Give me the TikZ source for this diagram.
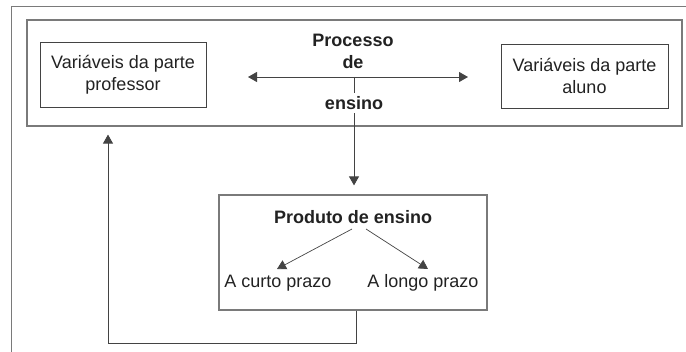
\documentclass[tikz,border=0pt]{standalone}
\usepackage{fontspec}
\setmainfont{Liberation Sans}
\usepackage{tikz}
\usetikzlibrary{arrows.meta}

\definecolor{ink}{HTML}{222222}
\definecolor{frame}{HTML}{7A7A7A}

\begin{document}
\begin{tikzpicture}[x=1pt,y=-1pt,
    txt/.style={text=ink,font=\fontsize{18}{22}\selectfont,align=center,inner sep=1pt},
    bold/.style={txt,font=\fontsize{18}{22}\selectfont\bfseries},
    box/.style={draw=ink!85,line width=0.9pt,txt},
    arr/.style={draw=ink!85,line width=0.9pt,-{Triangle[length=9pt,width=10pt]}}]
            \useasboundingbox (0,0) rectangle (686,352);
            \draw [frame,line width=1pt] (686,7) -- (11,7) -- (11,352); %%%%

            \node[draw=frame,line width=1.2pt,minimum width=655pt,minimum height=106pt] (proc) at (354.5,73) {};
            \node[box,minimum width=166pt,minimum height=65pt] (prof) at (123,74.5) {Variáveis da parte\\professor};
            \node[box,minimum width=167pt,minimum height=64pt] (alun) at (584.5,76) {Variáveis da parte\\aluno};
            \node[bold] (titulo) at (353,51) {Processo\\de};

            \coordinate (l) at (248,77);
            \coordinate (r) at (468,77);
            \coordinate (m) at (354,77);
            \draw[arr,{Triangle[length=9pt,width=10pt]}-{Triangle[length=9pt,width=10pt]}] (l) -- (r);

            %%%%%%%%%%%%%%%%
            \node[box,draw=frame,line width=1.2pt,minimum width=268pt,minimum height=115pt] (prod) at (353,252.5) {};
            \draw[arr,shorten >=9pt] (m) -- (m |- prod.north);
            \node[bold,fill=white,inner ysep=3pt] (ensino) at (354,103) {ensino};

            \node[bold] (prodt) at (353,217) {Produto de ensino};
            \node[txt] (curto) at (278,283) {A curto prazo};
            \node[txt] (longo) at (423,283) {A longo prazo};
            \coordinate (pa) at (352,229);
            \coordinate (pb) at (366,229);
            \coordinate (ca) at (277,269);
            \coordinate (lb) at (428,269);
            \draw[arr,line width=0.7pt] (pa) -- (ca);
            \draw[arr,line width=0.7pt] (pb) -- (lb);
            %%%%%%%%%%%%%%%%

            \coordinate (fbr) at (356,343);
            \coordinate (fbl) at (108,343);
            \draw[arr,shorten >=8pt] ([xshift=3pt]prod.south) -- (fbr) -- (fbl) -- (fbl |- proc.south);
        \end{tikzpicture}
\end{document}
